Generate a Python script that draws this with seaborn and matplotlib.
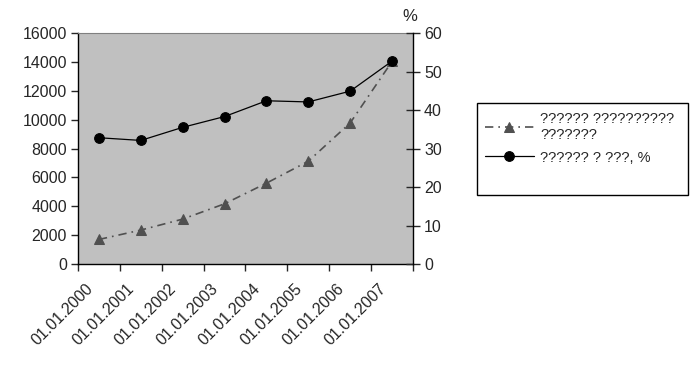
import matplotlib
matplotlib.use('Agg')
import matplotlib.pyplot as plt
import matplotlib.transforms as mtransforms
from matplotlib.patches import Rectangle
import seaborn as sns
import pandas as pd
import numpy as np

sns.set_style('white')
plt.rcParams['font.family'] = ['Liberation Sans', 'DejaVu Sans']

dates = ['01.01.2000', '01.01.2001', '01.01.2002', '01.01.2003',
         '01.01.2004', '01.01.2005', '01.01.2006', '01.01.2007']
volume = [1700, 2350, 3110, 4170, 5600, 7120, 9770, 14030]
share = [32.8, 32.1, 35.5, 38.3, 42.4, 42.1, 44.9, 52.7]
label_volume = '?????? ??????????\n???????'
label_share = '?????? ? ???, %'

df = pd.DataFrame({'pos': np.arange(len(dates)) + 0.5, 'volume': volume, 'share': share})

fig = plt.figure(figsize=(7, 3.71), dpi=100)
ax = fig.add_axes([0.1114, 0.2884, 0.4786, 0.6226])
ax.set_facecolor('#c0c0c0')
ax2 = ax.twinx()

sns.lineplot(data=df, x='pos', y='volume', ax=ax, color='#505050', lw=1.2,
             marker='^', markersize=7, markeredgecolor='#505050', dashes=False,
             linestyle=(0, (5, 3, 1, 3)), label=label_volume, legend=False)
sns.lineplot(data=df, x='pos', y='share', ax=ax2, color='black', lw=0.9,
             marker='o', markersize=7, markeredgecolor='black',
             label=label_share, legend=False)

ax.set_xlim(0, len(dates))
ax.set_ylim(0, 16000)
ax2.set_ylim(0, 60)
ax.set_yticks(np.arange(0, 16001, 2000))
ax2.set_yticks(np.arange(0, 61, 10))
ax.set_xticks(np.arange(0, len(dates) + 1))
ax.set_xticklabels([])
ax.set_xticks(np.arange(len(dates)) + 0.5, minor=True)
ax.set_xticklabels(dates, minor=True, rotation=45, ha='right', rotation_mode='anchor')
ax.set_xlabel('')
ax.set_ylabel('')
ax2.set_ylabel('')

for a in (ax, ax2):
    for s in a.spines.values():
        s.set_visible(False)
ax.spines['left'].set_visible(True)
ax.spines['bottom'].set_visible(True)
ax2.spines['right'].set_visible(True)
for s in (ax.spines['left'], ax.spines['bottom'], ax2.spines['right']):
    s.set_color('black')
    s.set_linewidth(1)
ax.spines['top'].set_visible(True)
ax.spines['top'].set_color('#808080')
ax.spines['top'].set_linewidth(0.8)

ax.tick_params(axis='y', direction='out', length=5, width=1, labelsize=11.5, left=True, pad=3)
ax.tick_params(axis='x', which='major', direction='out', length=5, width=1, bottom=True)
ax.tick_params(axis='x', which='minor', length=0, labelsize=11.5, pad=12)
ax2.tick_params(axis='y', direction='inout', length=10, width=1, labelsize=11.5, right=True, pad=3)

# shift date labels a bit to the left, as in the original
shift = mtransforms.ScaledTranslation(-0.14, 0, fig.dpi_scale_trans)
for lbl in ax.get_xticklabels(minor=True):
    lbl.set_transform(lbl.get_transform() + shift)

fig.text(0.585, 0.935, '%', fontsize=12, ha='center', va='bottom')

h1, l1 = ax.get_legend_handles_labels()
h2, l2 = ax2.get_legend_handles_labels()
leg = fig.legend(h1 + h2, l1 + l2, loc='upper left', bbox_to_anchor=(0.684, 0.715),
                 frameon=False, fontsize=10.5, handlelength=3.4, handletextpad=0.4,
                 borderpad=0.4, labelspacing=0.6, borderaxespad=0)
# legend box (Excel-style, taller than its entries)
fig.patches.append(Rectangle((477 / 700, 1 - 195 / 371), 211 / 700, 92 / 371,
                             transform=fig.transFigure, fill=False,
                             edgecolor='black', linewidth=1))

fig.savefig('out.png', dpi=100, facecolor='white')
